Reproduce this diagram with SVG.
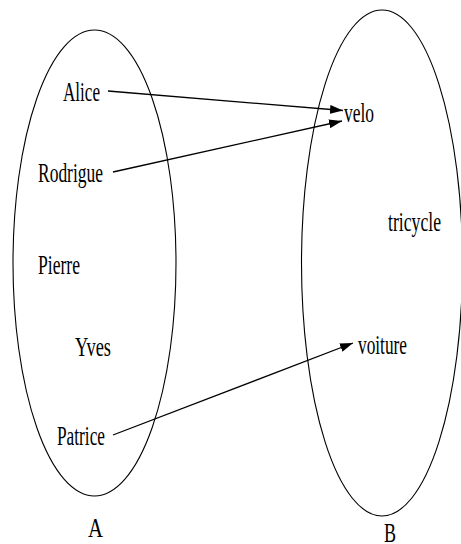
<svg xmlns="http://www.w3.org/2000/svg" width="461" height="544" viewBox="0 0 461 544">
<style>
.set{fill:none;stroke:#000;stroke-width:1.1}
.lbl{font-family:"Liberation Serif","Times New Roman",serif;font-size:27px;fill:#000}
.edge{stroke:#000;stroke-width:1.3;fill:none;marker-end:url(#ah)}
</style>
<defs>
<marker id="ah" markerUnits="userSpaceOnUse" markerWidth="14" markerHeight="9" refX="13" refY="4.5" orient="auto">
<path d="M0,0 L13,4.5 L0,9 Z" fill="#000"/>
</marker>
</defs>
<rect width="461" height="544" fill="#fff"/>
<g id="setA">
<ellipse class="set" cx="94.5" cy="263" rx="81.5" ry="233"/>
<text class="lbl" x="88" y="537" textLength="15" lengthAdjust="spacingAndGlyphs">A</text>
</g>
<g id="setB">
<ellipse class="set" cx="382" cy="263" rx="80.5" ry="253"/>
<text class="lbl" x="384" y="542" textLength="12" lengthAdjust="spacingAndGlyphs">B</text>
</g>
<g id="alice"><text class="lbl" x="63" y="101" textLength="37" lengthAdjust="spacingAndGlyphs">Alice</text></g>
<g id="rodrigue"><text class="lbl" x="38" y="182" textLength="65" lengthAdjust="spacingAndGlyphs">Rodrigue</text></g>
<g id="pierre"><text class="lbl" x="38" y="274" textLength="42" lengthAdjust="spacingAndGlyphs">Pierre</text></g>
<g id="yves"><text class="lbl" x="75" y="356" textLength="36" lengthAdjust="spacingAndGlyphs">Yves</text></g>
<g id="patrice"><text class="lbl" x="57" y="445" textLength="48" lengthAdjust="spacingAndGlyphs">Patrice</text></g>
<g id="velo"><text class="lbl" x="344" y="122" textLength="30" lengthAdjust="spacingAndGlyphs">velo</text></g>
<g id="tricycle"><text class="lbl" x="388" y="231" textLength="53" lengthAdjust="spacingAndGlyphs">tricycle</text></g>
<g id="voiture"><text class="lbl" x="358" y="354" textLength="49" lengthAdjust="spacingAndGlyphs">voiture</text></g>
<g id="connectors">
<line class="edge" x1="108" y1="91" x2="343" y2="110.5"/>
<line class="edge" x1="113" y1="172" x2="342" y2="121"/>
<line class="edge" x1="113" y1="435" x2="353" y2="343"/>
</g>
</svg>
